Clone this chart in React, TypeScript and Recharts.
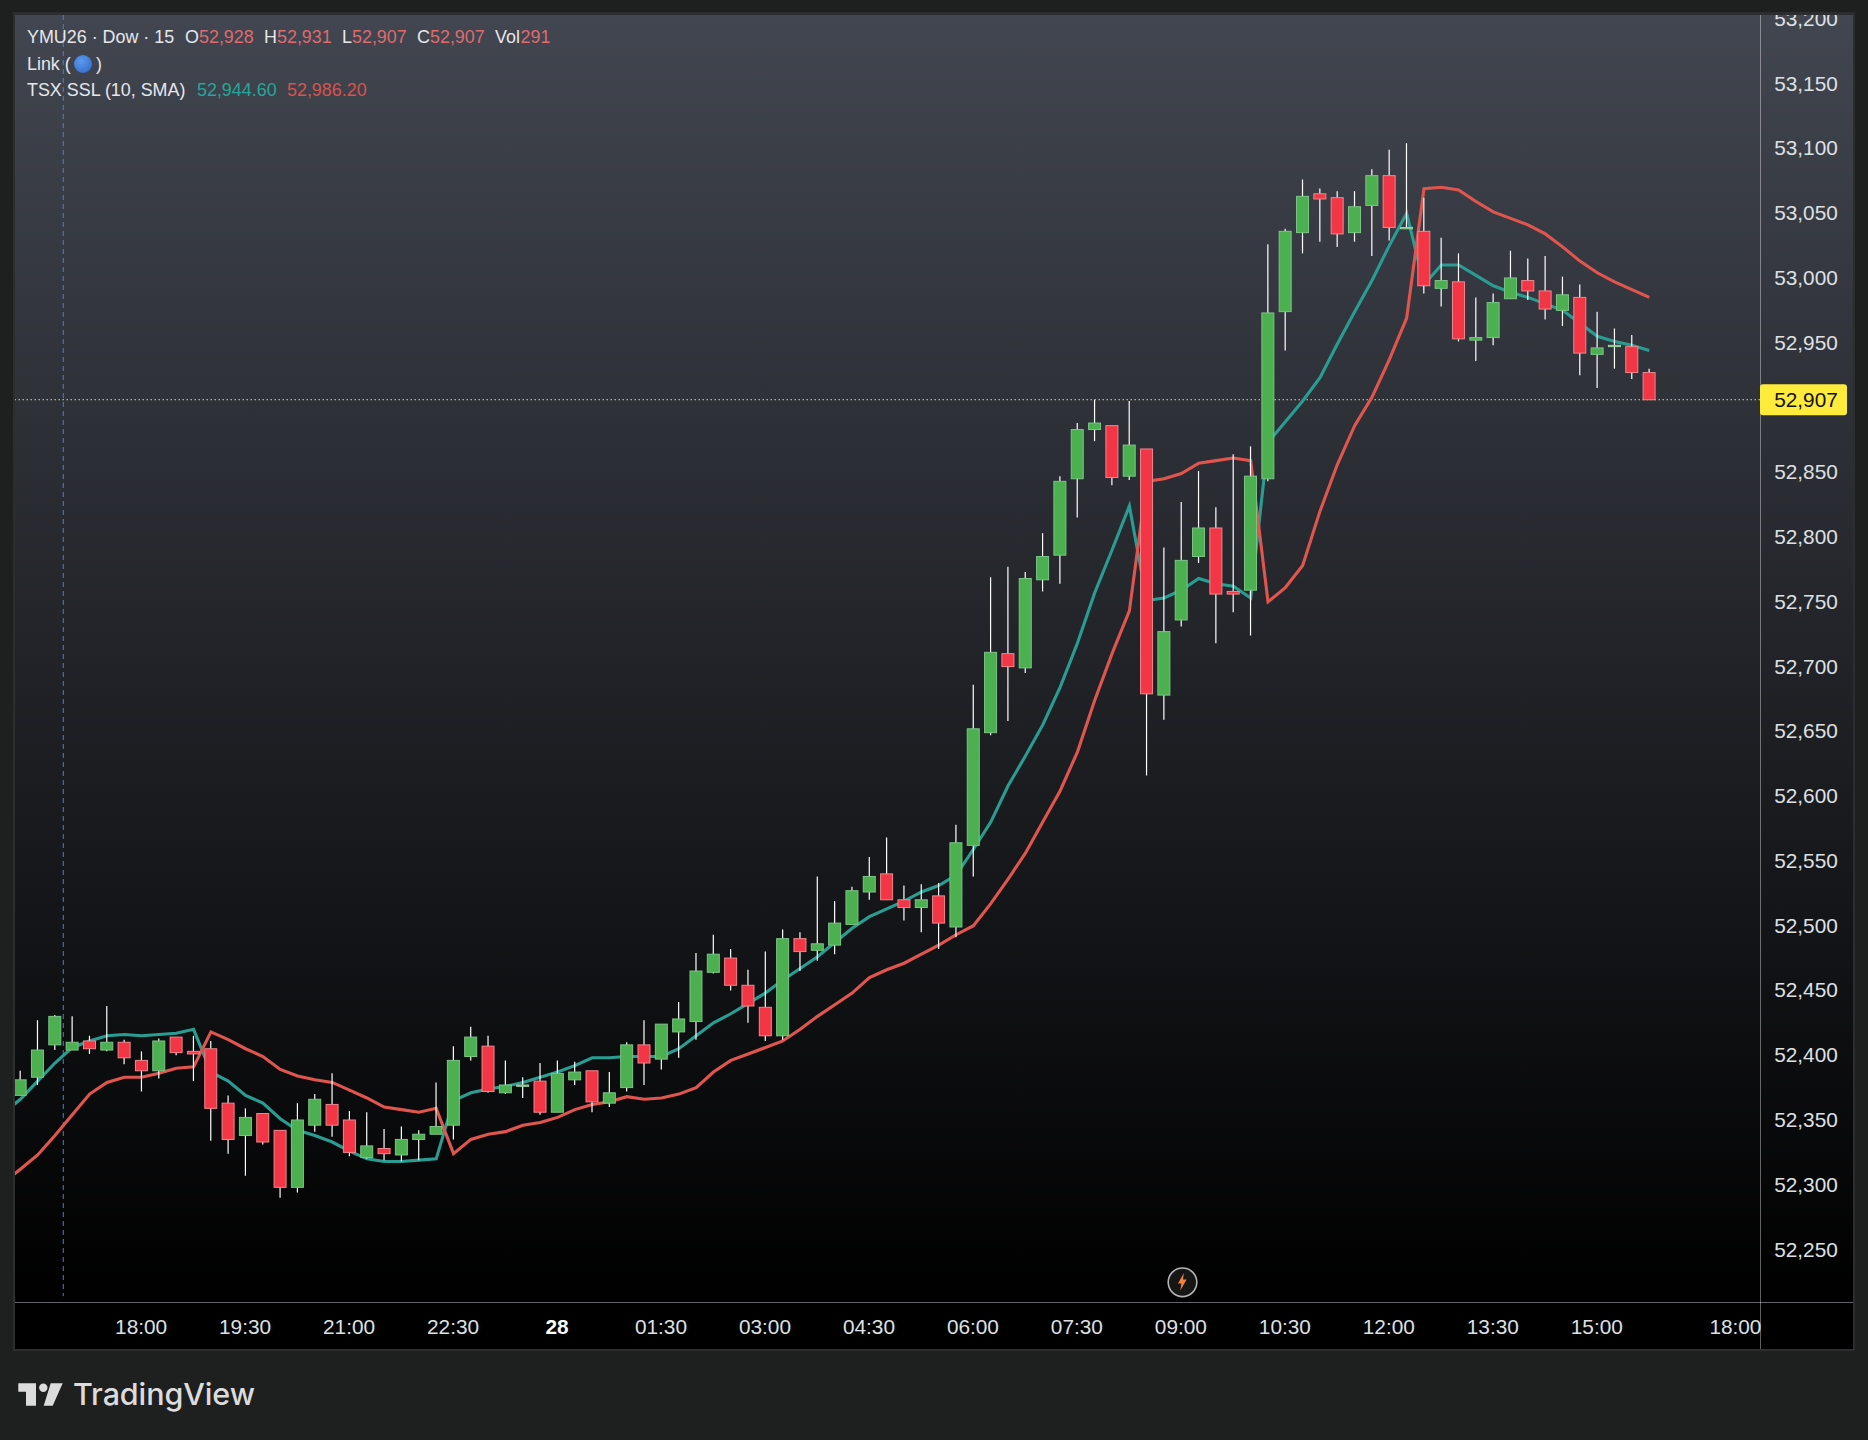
import React from "react";
import { ComposedChart, Bar, Line, XAxis, YAxis, ReferenceLine } from "recharts";

const opens = [52370,52384,52409,52405,52412,52405,52411,52397,52389,52415,52404,52406,52364,52339,52356,52343,52299,52347,52363,52351,52322,52329,52324,52336,52340,52347,52400,52408,52372,52377,52381,52357,52382,52389,52364,52376,52409,52398,52419,52427,52465,52476,52455,52438,52416,52491,52482,52486,52502,52527,52541,52521,52515,52524,52500,52563,52650,52711,52700,52768,52787,52846,52884,52887,52848,52869,52679,52737,52786,52808,52759,52760,52846,52975,53036,53066,53063,53036,53057,53080,53039,53037,52993,52998,52953,52955,52985,52999,52991,52976,52986,52942,52948,52948,52928];
const closes = [52382,52405,52431,52411,52406,52411,52399,52389,52412,52403,52402,52360,52336,52353,52334,52299,52351,52367,52347,52326,52331,52325,52336,52340,52346,52397,52415,52373,52378,52378,52357,52387,52388,52365,52372,52409,52395,52425,52429,52466,52479,52455,52439,52416,52491,52481,52487,52503,52528,52539,52521,52515,52521,52503,52565,52653,52712,52701,52769,52786,52844,52884,52889,52847,52872,52680,52728,52783,52808,52757,52757,52848,52974,53037,53064,53062,53035,53056,53080,53040,53040,52995,52999,52954,52955,52982,53001,52991,52977,52988,52943,52947,52949,52928,52907];
const highs = [52389,52428,52432,52431,52416,52439,52413,52404,52414,52415,52416,52412,52370,52360,52356,52343,52364,52371,52387,52358,52357,52344,52346,52343,52380,52408,52423,52416,52397,52384,52395,52397,52396,52389,52388,52411,52428,52425,52442,52480,52494,52483,52467,52481,52498,52496,52539,52520,52531,52554,52569,52532,52533,52534,52579,52687,52770,52778,52774,52804,52848,52889,52907,52887,52906,52869,52793,52828,52852,52824,52865,52871,53027,53039,53077,53070,53068,53068,53085,53100,53105,53063,53032,53020,52986,52989,53022,53016,53018,53002,52996,52975,52962,52957,52931];
const lows = [52370,52378,52405,52405,52402,52404,52394,52373,52383,52401,52381,52335,52325,52308,52332,52291,52295,52342,52338,52323,52321,52320,52319,52320,52340,52336,52397,52372,52371,52368,52355,52357,52378,52357,52361,52373,52378,52390,52399,52413,52464,52451,52426,52412,52413,52466,52474,52479,52502,52521,52521,52505,52496,52483,52492,52539,52648,52659,52696,52759,52765,52816,52875,52841,52845,52617,52660,52732,52781,52719,52743,52725,52844,52945,53020,53029,53025,53029,53018,53030,53039,52989,52979,52952,52937,52949,52985,52984,52969,52964,52926,52916,52931,52923,52907];
const sslUp = [52367,52381,52395,52407,52412,52416,52417,52416,52417,52418,52421,52388,52381,52370,52364,52352,52343,52339,52334,52327,52321,52319,52319,52320,52321,52366,52372,52375,52377,52380,52384,52388,52393,52399,52399,52400,52400,52400,52406,52416,52426,52433,52441,52449,52459,52468,52477,52488,52499,52508,52514,52520,52527,52532,52540,52560,52581,52609,52632,52656,52685,52719,52758,52791,52825,52752,52754,52760,52769,52765,52763,52754,52874,52890,52906,52924,52950,52975,52999,53026,53051,52996,53011,53011,53003,52995,52990,52986,52981,52976,52966,52956,52952,52949,52945];
const sslDown = [52313,52324,52339,52355,52371,52380,52384,52384,52387,52391,52392,52419,52413,52406,52400,52390,52385,52382,52380,52374,52368,52361,52359,52357,52360,52325,52336,52340,52342,52347,52349,52353,52359,52363,52365,52369,52367,52368,52371,52376,52388,52397,52402,52407,52412,52421,52431,52440,52449,52461,52467,52472,52479,52486,52494,52501,52518,52537,52557,52581,52605,52635,52675,52711,52744,52844,52846,52850,52858,52860,52862,52860,52751,52762,52779,52821,52857,52887,52909,52938,52970,53070,53071,53069,53060,53052,53047,53042,53035,53025,53014,53005,52998,52992,52986];
const leadIn = { i: -1, up: 52356, down: 52302 };

const timeTickSlots = [7,13,19,25,31,37,43,49,55,61,67,73,79,85,91,99];
const timeTickLabels = ["18:00","19:30","21:00","22:30","28","01:30","03:00","04:30","06:00","07:30","09:00","10:30","12:00","13:30","15:00","18:00"];
const priceTicks = [53200,53150,53100,53050,53000,52950,52907,52850,52800,52750,52700,52650,52600,52550,52500,52450,52400,52350,52300,52250];
const lastPrice = 52907;
const sessionBreakSlot = 2.48;
const legendOHLC = [["O","52,928",185,199],["H","52,931",264,277],["L","52,907",342,352],["C","52,907",417,430],["Vol","291",495,520.5]];

const rows = [
  { i: leadIn.i, up: leadIn.up, down: leadIn.down },
  ...opens.map((o, i) => ({ i, o, c: closes[i], h: highs[i], l: lows[i], up: sslUp[i], down: sslDown[i] })),
];

const FONT = '"Liberation Sans", Arial, sans-serif';

function Candle(props: any) {
  const { x, y, width, height, payload } = props;
  if (payload == null || payload.o == null || !(height > 0)) return null;
  const unit = height / (payload.h - payload.l);
  const yOf = (p: number) => y + (payload.h - p) * unit;
  const cx = x + width / 2;
  const up = payload.c >= payload.o;
  const top = yOf(Math.max(payload.o, payload.c));
  const bot = yOf(Math.min(payload.o, payload.c));
  const doji = bot - top < 2;
  return (
    <g>
      <line x1={cx} x2={cx} y1={y} y2={y + height} stroke="#ffffff" strokeWidth={1.2} />
      <rect
        x={cx - 6}
        y={top}
        width={12}
        height={Math.max(bot - top, 0.6)}
        fill={up ? "#4caf50" : "#f23645"}
        stroke={doji && up ? "#9ed4a4" : up ? "#7cc487" : "#f0868e"}
        strokeWidth={1}
      />
    </g>
  );
}

function PriceTick(props: any) {
  const { x, y, payload } = props;
  const v = payload.value;
  const label = v.toLocaleString("en-US");
  const cx = 1806;
  if (v === lastPrice) {
    return (
      <g>
        <rect x={x - 8} y={y - 15.5} width={87} height={31} rx={3} fill="#ffeb3b" />
        <text x={cx} y={y} textAnchor="middle" dominantBaseline="central" fontFamily={FONT} fontSize={20.8} fill="#111">{label}</text>
      </g>
    );
  }
  return (
    <text x={cx} y={y - 1.8} textAnchor="middle" dominantBaseline="central" fontFamily={FONT} fontSize={20.8} fill="#dfe0e2">{label}</text>
  );
}

function TimeTick(props: any) {
  const { x, payload } = props;
  const idx = timeTickSlots.indexOf(payload.value);
  const label = timeTickLabels[idx];
  const day = label === "28";
  return (
    <text x={x - 0.5} y={1326} textAnchor="middle" dominantBaseline="central" fontFamily={FONT} fontSize={20.8} fontWeight={day ? 700 : 400} fill={day ? "#ffffff" : "#dfe0e2"}>{label}</text>
  );
}

const legendBase: React.CSSProperties = { position: "absolute", fontFamily: FONT, fontSize: 17.9, lineHeight: "20px", whiteSpace: "pre", color: "#e6e7ea" };

export default function App() {
  return (
    <div style={{ position: "absolute", left: 0, top: 0, width: 1868, height: 1440, overflow: "hidden", background: "#1e1f1f" }}>
      <div style={{ position: "absolute", left: 13, top: 12, width: 1842, height: 1339, background: "#2c2d2e" }} />
      <div style={{ position: "absolute", left: 15, top: 14, width: 1838, height: 1288, background: "linear-gradient(180deg, rgb(66,70,80) 0%, rgb(0,0,0) 100%)" }} />
      <div style={{ position: "absolute", left: 15, top: 1302, width: 1838, height: 47, background: "#000" }} />
      <div style={{ position: "absolute", left: 15, top: 1302, width: 1838, height: 1, background: "#63656a" }} />
      <div style={{ position: "absolute", left: 1760, top: 14, width: 1, height: 1335, background: "rgba(255,255,255,0.38)" }} />

      <div style={{ position: "absolute", left: 0, top: 0 }}>
        <ComposedChart width={1868} height={1440} data={rows} margin={{ top: 15, right: 15, bottom: 91, left: 15 }}>
          <XAxis
            dataKey="i"
            type="number"
            domain={[-0.306, 100.39]}
            allowDataOverflow
            height={47}
            ticks={timeTickSlots}
            interval={0}
            axisLine={false}
            tickLine={false}
            tick={<TimeTick />}
          />
          <YAxis
            orientation="right"
            width={93}
            type="number"
            domain={[52210.5, 53204]}
            allowDataOverflow
            ticks={priceTicks}
            interval={0}
            axisLine={false}
            tickLine={false}
            tick={<PriceTick />}
          />
          <ReferenceLine y={lastPrice} stroke="#e6e67a" strokeWidth={1} strokeDasharray="1.5 2.5" />
          <ReferenceLine
            segment={[{ x: sessionBreakSlot, y: 53204 }, { x: sessionBreakSlot, y: 52215 }]}
            stroke="#4f7fc9"
            strokeWidth={1}
            strokeDasharray="5 4"
          />
          <Line dataKey="up" stroke="#2a9d92" strokeWidth={3.1} dot={false} activeDot={false} isAnimationActive={false} />
          <Line dataKey="down" stroke="#e0564f" strokeWidth={3.1} dot={false} activeDot={false} isAnimationActive={false} />
          <Bar
            dataKey={(d: any) => (d.o == null ? undefined : [d.l, d.h])}
            barSize={13}
            shape={<Candle />}
            isAnimationActive={false}
            zIndex={900}
          />
        </ComposedChart>
      </div>

      {/* clip of the price scale at the top of the pane */}
      <div style={{ position: "absolute", left: 0, top: 0, width: 1868, height: 12, background: "#1e1f1f" }} />
      <div style={{ position: "absolute", left: 13, top: 12, width: 1842, height: 3, background: "#2c2d2e" }} />

      <span style={{ ...legendBase, left: 27, top: 27 }}>YMU26 · Dow · 15</span>
      {legendOHLC.map(([k, v, kx, vx]) => (
        <React.Fragment key={k as string}>
          <span style={{ ...legendBase, left: kx as number, top: 27 }}>{k}</span>
          <span style={{ ...legendBase, left: vx as number, top: 27, color: "#df6b6e" }}>{v}</span>
        </React.Fragment>
      ))}
      <span style={{ ...legendBase, left: 27, top: 54 }}>Link (</span>
      <span style={{ position: "absolute", left: 74, top: 55, width: 18, height: 18, borderRadius: "50%", background: "radial-gradient(circle at 40% 35%, #5b9bee, #2f62c4)" }} />
      <span style={{ ...legendBase, left: 96, top: 54 }}>)</span>
      <span style={{ ...legendBase, left: 27, top: 80 }}>TSX SSL (10, SMA)</span>
      <span style={{ ...legendBase, left: 197, top: 80, color: "#26a69a" }}>52,944.60</span>
      <span style={{ ...legendBase, left: 287, top: 80, color: "#d9534f" }}>52,986.20</span>

      <svg width={1868} height={1440} style={{ position: "absolute", left: 0, top: 0, pointerEvents: "none" }}>
        <circle cx={1182.5} cy={1282.3} r={14.3} fill="#161616" stroke="#b4b4b4" strokeWidth={1.6} />
        <polygon points="1183.8,1273 1178,1283.5 1181.4,1283.5 1180.3,1290.5 1186.6,1279.5 1183,1279.5" fill="#f5803e" />
        <polygon points="18.3,1383.3 36,1383.3 36,1405.7 26,1405.7 26,1391.7 18.3,1391.7" fill="#dcdcdc" />
        <circle cx={43.3} cy={1387.7} r={4.2} fill="#dcdcdc" />
        <polygon points="50.7,1383.3 62.7,1383.3 52.7,1405.7 43.7,1405.7" fill="#dcdcdc" />
        <text x={73} y={1405} fontFamily="Inter, sans-serif" fontWeight={500} fontSize={30.5} letterSpacing={-0.1} fill="#dcdcdc">TradingView</text>
      </svg>
    </div>
  );
}
